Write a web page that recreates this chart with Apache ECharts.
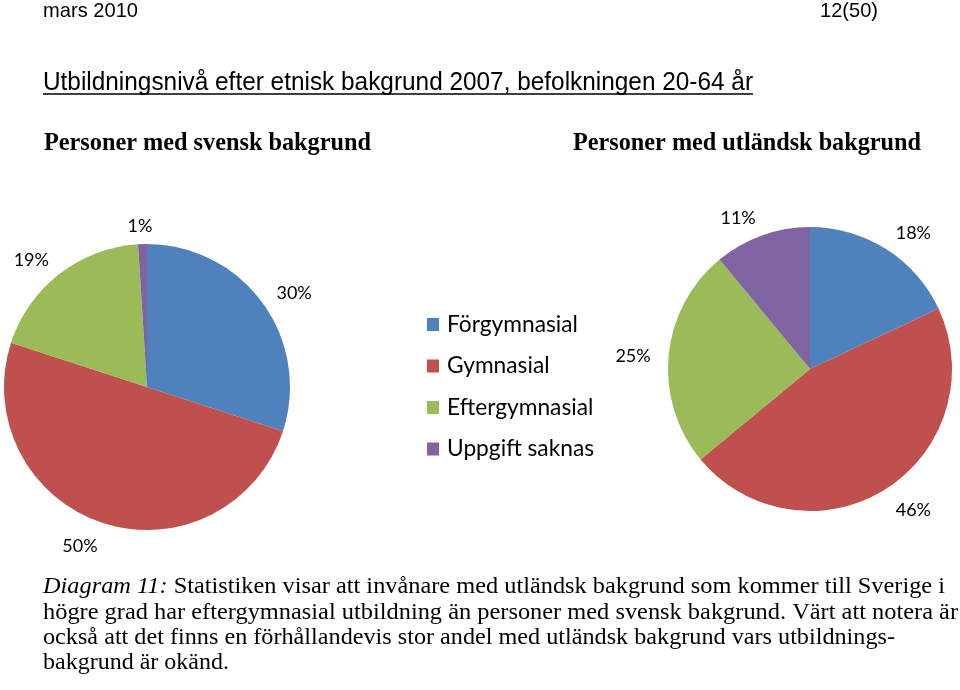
<!DOCTYPE html>
<html><head><meta charset="utf-8">
<script src="https://cdn.jsdelivr.net/npm/echarts@6/dist/echarts.min.js"></script>
<style>html,body{margin:0;padding:0;background:#fff}#c{width:960px;height:690px}</style>
</head><body><div id="c"></div>
<script>
// ---- data ----
const categories = ['Förgymnasial', 'Gymnasial', 'Eftergymnasial', 'Uppgift saknas'];
const svenskValues = [30, 50, 19, 1];
const utlandskValues = [18, 46, 25, 11];
const colors = ['#4F81BD', '#C0504D', '#9BBB59', '#8064A2'];
const headerLeft = 'mars 2010';
const headerRight = '12(50)';
const mainTitle = 'Utbildningsnivå efter etnisk bakgrund 2007, befolkningen 20-64 år';
const subLeft = 'Personer med svensk bakgrund';
const subRight = 'Personer med utländsk bakgrund';
const captionItalic = 'Diagram 11:';
const captionLines = [
  ' Statistiken visar att invånare med utländsk bakgrund som kommer till Sverige i',
  'högre grad har eftergymnasial utbildning än personer med svensk bakgrund. Värt att notera är',
  'också att det finns en förhållandevis stor andel med utländsk bakgrund vars utbildnings-',
  'bakgrund är okänd.'
];

// ---- text measuring helpers (layout only) ----
const ctx = document.createElement('canvas').getContext('2d');
function mw(font, t) { ctx.font = font; return ctx.measureText(t).width; }

const legendFs = 24 * 131 / mw('24px Lato', 'Förgymnasial');
const labelFs = 1.07 * 20 * 33 / mw('20px Lato', '30%');

function textEl(text, x, y, family, size, weight, targetW) {
  const font = weight + ' ' + size + 'px ' + family;
  const s = targetW ? targetW / mw(font, text) : 1;
  return {
    type: 'text', x: x, y: y, scaleX: s, silent: true,
    style: { text: text, fontFamily: family, fontSize: size, fontWeight: weight,
             fill: '#000', align: 'left', verticalAlign: 'middle' }
  };
}

const serif = '"Liberation Serif", "Times New Roman", serif';
const sans = '"Liberation Sans", Arial, sans-serif';

const graphics = [];
graphics.push(textEl(headerLeft, 43, 11, sans, 21, 'normal', 95));
graphics.push(textEl(headerRight, 820, 11, sans, 21, 'normal', 58));
graphics.push(textEl(mainTitle, 43, 83, sans, 25, 'normal', 710));
graphics.push({ type: 'line', silent: true, shape: { x1: 43, y1: 94, x2: 753, y2: 94 }, style: { stroke: '#000', lineWidth: 1.5 } });
graphics.push(textEl(subLeft, 44, 143.5, serif, 25, 'bold', 327));
graphics.push(textEl(subRight, 573, 143.5, serif, 25, 'bold', 348));

// caption line 1 with italic lead
(function () {
  const fi = 'italic 24px ' + serif, fn = '24px ' + serif;
  const w = mw(fi, captionItalic) + mw(fn, captionLines[0]);
  graphics.push({
    type: 'text', x: 43, y: 587, scaleX: 902 / w, silent: true,
    style: { text: '{i|' + captionItalic + '}' + captionLines[0], fontFamily: serif, fontSize: 24,
             fill: '#000', align: 'left', verticalAlign: 'middle',
             rich: { i: { fontStyle: 'italic', fontFamily: serif, fontSize: 24, fill: '#000' } } }
  });
})();
const capTargets = [null, 915, 852, 186];
const capY = [587, 612.5, 637.5, 662.5];
for (let i = 1; i < captionLines.length; i++) {
  graphics.push(textEl(captionLines[i], 43, capY[i], serif, 24, 'normal', capTargets[i]));
}

function pieSeries(center, r, vals) {
  return {
    type: 'pie', center: center, radius: r, startAngle: 90, clockwise: true,
    animation: false, silent: true,
    data: categories.map((n, i) => ({ name: n, value: vals[i], itemStyle: { color: colors[i] } })),
    label: { show: false }, labelLine: { show: false },
    itemStyle: { borderWidth: 0 }
  };
}
// Labels sit outside the pie in the style of Excel "best fit": direction taken from the
// library's own slice mid-angle (label of an invisible ring), pushed out to the label box edge.
function labelRing(center, vals) {
  const cx = center[0], cy = center[1];
  return {
    type: 'pie', center: center, radius: [150, 170], startAngle: 90, clockwise: true,
    animation: false, silent: true, avoidLabelOverlap: false, legendHoverLink: false,
    data: categories.map((n, i) => ({ name: n, value: vals[i] })),
    itemStyle: { color: 'rgba(0,0,0,0)', borderWidth: 0 },
    label: { show: true, position: 'inside', formatter: '{c}%', fontFamily: 'Lato',
             fontSize: labelFs, color: '#000' },
    labelLine: { show: false },
    labelLayout: function (p) {
      const r = p.labelRect;
      const lx = r.x + r.width / 2 - cx, ly = r.y + r.height / 2 - cy;
      const d = Math.sqrt(lx * lx + ly * ly) || 1;
      const ux = lx / d, uy = ly / d;
      const hw = r.width / 2;
      return {
        x: cx + 160 * ux + hw * Math.sign(ux) * Math.min(1, Math.abs(ux) * 5),
        y: cy + 164 * uy + 3
      };
    }
  };
}

const chart = echarts.init(document.getElementById('c'), null, { renderer: 'canvas' });
chart.setOption({
  animation: false,
  backgroundColor: '#fff',
  color: colors,
  legend: {
    orient: 'vertical', left: 427, top: 312.5, padding: 0,
    data: categories, icon: 'rect', itemWidth: 12, itemHeight: 13,
    itemGap: 41.5 - 24,
    textStyle: { fontFamily: 'Lato', fontSize: legendFs, color: '#000', lineHeight: 24, padding: [0, 0, 0, 3] },
    selectedMode: false
  },
  series: [
    pieSeries([147, 387], 143, svenskValues),
    pieSeries([810, 369], 142, utlandskValues),
    labelRing([147, 387], svenskValues),
    labelRing([810, 369], utlandskValues)
  ],
  graphic: graphics
});
</script>
</body></html>
